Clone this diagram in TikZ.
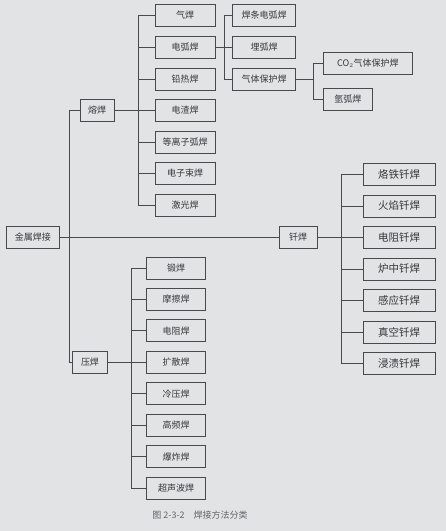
\documentclass[tikz,border=0pt]{standalone}
\usepackage{fontspec}
\setmainfont{Noto Sans CJK SC}
\definecolor{paper}{RGB}{226,227,229}
\definecolor{linegray}{RGB}{72,72,78}
\definecolor{inkgray}{RGB}{55,55,60}
\definecolor{capgray}{RGB}{100,100,105}
\tikzset{
  box/.style={draw=linegray, line width=0.7pt, fill=paper, text=inkgray,
    inner sep=0pt, minimum height=22pt, font=\fontsize{9}{9}\selectfont},
  bigbox/.style={box, font=\fontsize{10.5}{10.5}\selectfont},
  link/.style={draw=linegray, line width=0.7pt}
}
\begin{document}
\begin{tikzpicture}[x=1pt,y=-1pt]
  \fill[paper] (0,0) rectangle (446,531);
  \useasboundingbox (0,0) rectangle (446,531);
  % First level
  \node[box,minimum width=53pt] (root) at (33,237.5) {金属焊接};
  \node[box,minimum width=34pt] (rh) at (97,110) {熔焊};
  \node[box,minimum width=35pt] (yh) at (90,362) {压焊};
  \node[box,minimum width=38pt] (qh) at (298,237.5) {钎焊};
  \coordinate (trunk) at (69,0);
  \draw[link] (trunk |- rh.west) -- (trunk |- yh.west);
  \draw[link] (trunk |- rh.west) -- (rh.west);
  \draw[link] (trunk |- yh.west) -- (yh.west);
  \draw[link] (root.east) -- (qh.west);
  % Fusion welding
  \node[box,minimum width=60pt] (rh1) at (185,15) {气焊};
  \node[box,minimum width=60pt] (rh2) at (185,47) {电弧焊};
  \node[box,minimum width=60pt] (rh3) at (185,79) {铅热焊};
  \node[box,minimum width=60pt] (rh4) at (185,110) {电渣焊};
  \node[box,minimum width=60pt] (rh5) at (185,142) {等离子弧焊};
  \node[box,minimum width=60pt] (rh6) at (185,173) {电子束焊};
  \node[box,minimum width=60pt] (rh7) at (185,205) {激光焊};
  \coordinate (rhbus) at (138,0);
  \draw[link] (rh.east) -- (rhbus |- rh.east);
  \draw[link] (rhbus |- rh1.west) -- (rhbus |- rh7.west);
  \foreach \i in {1,...,7}
    \draw[link] (rhbus |- rh\i.west) -- (rh\i.west);
  % Arc welding
  \node[box,minimum width=63pt] (dh1) at (264,15) {焊条电弧焊};
  \node[box,minimum width=63pt] (dh2) at (264,47) {埋弧焊};
  \node[box,minimum width=63pt] (dh3) at (264,79) {气体保护焊};
  \coordinate (dhbus) at (224,0);
  \draw[link] (rh2.east) -- (dh2.west);
  \draw[link] (dhbus |- dh1.west) -- (dhbus |- dh3.west);
  \draw[link] (dhbus |- dh1.west) -- (dh1.west);
  \draw[link] (dhbus |- dh3.west) -- (dh3.west);
  % Gas shielded
  \node[box,minimum width=89pt,anchor=west] (gb1) at (323,63) {CO$_2$气体保护焊};
  \node[box,minimum width=49pt,anchor=west] (gb2) at (323,99) {氩弧焊};
  \coordinate (gbbus) at (313,0);
  \draw[link] (dh3.east) -- (gbbus |- dh3.east);
  \draw[link] (gbbus |- gb1.west) -- (gbbus |- gb2.west);
  \draw[link] (gbbus |- gb1.west) -- (gb1.west);
  \draw[link] (gbbus |- gb2.west) -- (gb2.west);
  % Brazing
  \node[bigbox,minimum width=72pt] (qh1) at (399,174.5) {烙铁钎焊};
  \node[bigbox,minimum width=72pt] (qh2) at (399,206) {火焰钎焊};
  \node[bigbox,minimum width=72pt] (qh3) at (399,237.5) {电阻钎焊};
  \node[bigbox,minimum width=72pt] (qh4) at (399,269) {炉中钎焊};
  \node[bigbox,minimum width=72pt] (qh5) at (399,300.5) {感应钎焊};
  \node[bigbox,minimum width=72pt] (qh6) at (399,332) {真空钎焊};
  \node[bigbox,minimum width=72pt] (qh7) at (399,363.5) {浸渍钎焊};
  \coordinate (qhbus) at (341,0);
  \draw[link] (qh.east) -- (qhbus |- qh.east);
  \draw[link] (qhbus |- qh1.west) -- (qhbus |- qh7.west);
  \foreach \i in {1,...,7}
    \draw[link] (qhbus |- qh\i.west) -- (qh\i.west);
  % Pressure welding
  \node[box,minimum width=59pt] (yh1) at (176,268) {锻焊};
  \node[box,minimum width=59pt] (yh2) at (176,299.4) {摩擦焊};
  \node[box,minimum width=59pt] (yh3) at (176,330.8) {电阻焊};
  \node[box,minimum width=59pt] (yh4) at (176,362) {扩散焊};
  \node[box,minimum width=59pt] (yh5) at (176,393.6) {冷压焊};
  \node[box,minimum width=59pt] (yh6) at (176,425) {高频焊};
  \node[box,minimum width=59pt] (yh7) at (176,456.6) {爆炸焊};
  \node[box,minimum width=59pt] (yh8) at (176,488) {超声波焊};
  \coordinate (yhbus) at (131,0);
  \draw[link] (yh.east) -- (yhbus |- yh.east);
  \draw[link] (yhbus |- yh1.west) -- (yhbus |- yh8.west);
  \foreach \i in {1,...,8}
    \draw[link] (yhbus |- yh\i.west) -- (yh\i.west);
  % Caption
  \node[text=capgray,font=\fontsize{9}{9}\selectfont] (cap) at (200,515) {图 2-3-2\quad 焊接方法分类};
\end{tikzpicture}
\end{document}
